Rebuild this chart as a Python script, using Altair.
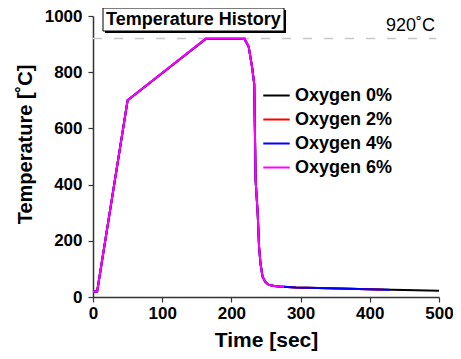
import altair as alt
import pandas as pd

# ---- data ----
series_names = ["Oxygen 0%", "Oxygen 2%", "Oxygen 4%", "Oxygen 6%"]
series_colors = ["#000000", "#ff0000", "#0000ff", "#ff00ff"]

time_0 = [0, 6, 50, 163, 219, 225, 230, 233, 235, 238, 240, 242, 245, 249, 254, 262, 269, 293, 341, 413, 450, 500]
temp_0 = [20, 20, 700, 918, 918, 890, 816, 758, 415, 297, 178, 120, 72, 54, 43, 39, 37, 34, 31, 27, 25, 22]

time_2 = [0, 6, 50, 163, 219, 225, 230, 233, 235, 238, 240, 242, 245, 249, 254, 262, 269, 293, 341, 413, 420]
temp_2 = [20, 20, 700, 919, 919, 890, 816, 758, 415, 297, 178, 120, 72, 54, 43, 39, 37, 34, 31, 27, 27]

time_4 = [0, 6, 50, 163, 219, 225, 230, 233, 235, 238, 240, 242, 245, 249, 254, 262, 269, 293, 341, 413, 428]
temp_4 = [20, 20, 700, 919, 919, 890, 816, 758, 415, 297, 178, 120, 72, 54, 43, 39, 37, 34, 31, 27, 26]

time_6 = [0, 6, 50, 163, 219, 225, 230, 233, 235, 238, 240, 242, 245, 249, 254, 262, 269, 276]
temp_6 = [20, 20, 700, 920, 920, 890, 816, 758, 415, 297, 178, 120, 72, 54, 43, 39, 37, 36]

ref_temp = 920
ref_time_start, ref_time_end = 0, 496

x_ticks = [0, 50, 100, 150, 200, 250, 300, 350, 400, 450, 500]
y_ticks = [0, 100, 200, 300, 400, 500, 600, 700, 800, 900, 1000]

# ---- build tables ----
rows = []
for name, ts, vs in zip(series_names, [time_0, time_2, time_4, time_6], [temp_0, temp_2, temp_4, temp_6]):
    for t, v in zip(ts, vs):
        rows.append({"series": name, "time": t, "temp": v})
df = pd.DataFrame(rows)
df["order"] = range(len(df))

ref_df = pd.DataFrame({"t0": [ref_time_start], "t1": [ref_time_end], "T": [ref_temp]})
one = pd.DataFrame({"a": [0]})

FONT = "Liberation Sans"

x_scale = alt.Scale(domain=[0, 500], nice=False)
y_scale = alt.Scale(domain=[0, 1000], nice=False)

x_axis = alt.Axis(
    values=x_ticks, format="d", labelFlush=False,
    labelExpr="datum.value % 100 === 0 ? datum.label : ''",
    tickSize={"condition": {"test": "datum.value % 100 === 0", "value": 5}, "value": 3},
    title="Time [sec]", titleFontSize=21, titleFontWeight="bold", titleFont=FONT,
    titleY=49, titleBaseline="alphabetic",
    labelFontSize=17, labelFontWeight="bold", labelFont=FONT,
    labelPadding=3, labelColor="#000", titleColor="#000", grid=False,
    domainColor="#333", domainWidth=1.5, tickColor="#333", tickWidth=1.2, labelOverlap=False,
)
y_axis = alt.Axis(
    values=y_ticks, format="d", labelFlush=False,
    labelExpr="datum.value % 200 === 0 ? datum.label : ''",
    tickSize={"condition": {"test": "datum.value % 200 === 0", "value": 5}, "value": 3},
    title="Temperature [˚C]", titleFontSize=20, titleFontWeight="bold", titleFont=FONT,
    titleX=-58, titleY=128, titleBaseline="bottom", titleAlign="center", titleAngle=270,
    labelFontSize=17, labelFontWeight="bold", labelFont=FONT,
    labelPadding=6, labelColor="#000", titleColor="#000", grid=False,
    domainColor="#333", domainWidth=1.5, tickColor="#333", tickWidth=1.2, labelOverlap=False,
)

lines = alt.Chart(df).mark_line(strokeWidth=2, clip=True).encode(
    x=alt.X("time:Q", scale=x_scale, axis=x_axis),
    y=alt.Y("temp:Q", scale=y_scale, axis=y_axis),
    color=alt.Color(
        "series:N",
        scale=alt.Scale(domain=series_names, range=series_colors),
        legend=alt.Legend(
            title=None, orient="none", legendX=169, legendY=65,
            symbolType="stroke", symbolSize=700, symbolStrokeWidth=2,
            labelFontSize=18, labelFontWeight="bold", labelFont=FONT, labelColor="#000",
            labelOffset=4, rowPadding=0, padding=0,
        ),
    ),
    detail="series:N",
    order="order:Q",
)

ref_line = alt.Chart(ref_df).mark_rule(color="#c8c8c8", strokeWidth=1.5, strokeDash=[9, 12]).encode(
    x=alt.X("t0:Q", scale=x_scale), x2="t1:Q", y=alt.Y("T:Q", scale=y_scale)
)

ref_label = alt.Chart(one).mark_text(
    text="920˚C", align="right", baseline="alphabetic", fontSize=18, font=FONT, color="#000"
).encode(x=alt.value(342), y=alt.value(15))

shadow = alt.Chart(one).mark_rect(color="#000").encode(
    x=alt.value(12), x2=alt.value(193), y=alt.value(-6), y2=alt.value(17)
)
box = alt.Chart(one).mark_rect(fill="#fff", stroke="#000", strokeWidth=1).encode(
    x=alt.value(10), x2=alt.value(191), y=alt.value(-8), y2=alt.value(15)
)
box_text = alt.Chart(one).mark_text(
    text="Temperature History", align="left", baseline="middle", fontSize=18,
    fontWeight="bold", font=FONT, color="#000"
).encode(x=alt.value(13), y=alt.value(3.5))

chart = alt.layer(ref_line, lines, ref_label, shadow, box, box_text).properties(
    width=346, height=281,
    autosize=alt.AutoSizeParams(type="none"),
    padding={"left": 85, "top": 8, "right": 14, "bottom": 54},
).configure_view(stroke=None)

chart.save("out.html", embed_options={"renderer": "svg", "actions": False})
